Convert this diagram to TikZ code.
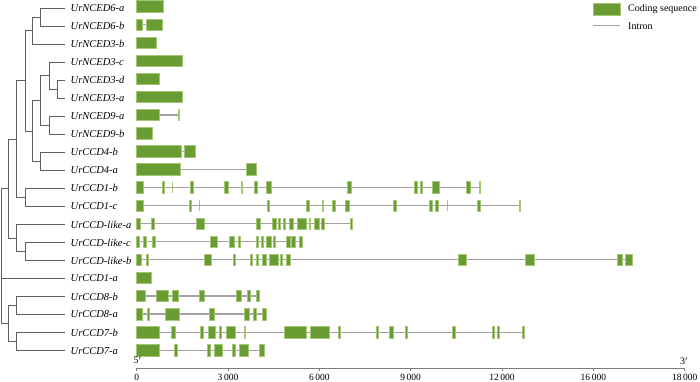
\documentclass[tikz,border=0pt]{standalone}
\usepackage{fontspec}
\setmainfont{Liberation Serif}
\definecolor{exgreen}{RGB}{106,156,52}
\definecolor{exedge}{RGB}{165,200,120}
\definecolor{intr}{RGB}{168,160,160}
\definecolor{treec}{RGB}{95,95,95}
\definecolor{axisc}{RGB}{125,125,125}
\tikzset{
 exon/.style={fill=exgreen,draw=exedge,line width=0.5pt},
 lightexon/.style={fill=exedge,draw=none},
 intron/.style={draw=intr,line width=1.3pt},
 branch/.style={draw=treec,line width=0.9pt,line cap=rect},
 leaflabel/.style={anchor=west,inner sep=0pt,font=\fontsize{10.5}{12}\selectfont\itshape},
 axislabel/.style={inner sep=0pt,font=\fontsize{9.5}{11}\selectfont},
 legendlabel/.style={anchor=west,inner sep=0pt,font=\fontsize{10}{12}\selectfont},
 axisline/.style={draw=axisc,line width=1.2pt}
}
\newcommand\generow[3]{%
 \draw[intron] (136.7,#1) -- (#2,#1);
 \foreach \a/\b in {#3}{\filldraw[exon] (\a,#1-5.7) rectangle (\b,#1+5.7);}
}
\begin{document}
\begin{tikzpicture}[x=1pt,y=-1pt]
\useasboundingbox (0,0) rectangle (700,382);
% leaves
\foreach \i/\t in {0/UrNCED6-a,1/UrNCED6-b,2/UrNCED3-b,3/UrNCED3-c,4/UrNCED3-d,5/UrNCED3-a,6/UrNCED9-a,7/UrNCED9-b,8/UrCCD4-b,9/UrCCD4-a,10/UrCCD1-b,11/UrCCD1-c,12/UrCCD-like-a,13/UrCCD-like-c,14/UrCCD-like-b,15/UrCCD1-a,16/UrCCD8-b,17/UrCCD8-a,18/UrCCD7-b,19/UrCCD7-a}{
 \coordinate (l\i) at (65,8.2+18.02*\i);
 \node[leaflabel] (n\i) at (70.5,8.2+18.02*\i) {\t};
}
% internal nodes
\coordinate (A) at (40.7,17.2);
\coordinate (B) at (32.3,30.7);
\coordinate (C) at (57.3,89.3);
\coordinate (D) at (49.3,75.8);
\coordinate (E) at (49.3,125.3);
\coordinate (F) at (40.7,100.6);
\coordinate (G) at (40.7,161.4);
\coordinate (H) at (32.3,131);
\coordinate (I) at (25,80.9);
\coordinate (L) at (25,197.4);
\coordinate (J) at (16.7,139.1);
\coordinate (P) at (25,251.5);
\coordinate (Q) at (16.7,238);
\coordinate (M) at (8.3,188.5);
\coordinate (R8) at (16.7,305.5);
\coordinate (R7) at (16.7,341.6);
\coordinate (N) at (8.3,323.5);
\coordinate (Rt) at (1,250);
\foreach \p/\c in {A/l0,A/l1,B/A,B/l2,C/l4,C/l5,D/l3,D/C,E/l6,E/l7,F/D,F/E,G/l8,G/l9,H/F,H/G,I/B,I/H,L/l10,L/l11,J/I,J/L,P/l13,P/l14,Q/l12,Q/P,M/J,M/Q,R8/l16,R8/l17,R7/l18,R7/l19,N/R8,N/R7,Rt/M,Rt/l15,Rt/N}{
 \draw[branch] (\p) |- (\c);
}
% gene structures
\generow{6.4}{163.3}{136.7/163.3}
\generow{24.5}{162}{136.7/142.7,146.7/162}
\generow{42.6}{156}{136.7/156}
\generow{60.7}{182.3}{136.7/182.3}
\generow{78.8}{159.7}{136.7/159.7}
\generow{96.9}{182.3}{136.7/182.3}
\generow{115.0}{179.7}{136.7/159,178/179.7}
\generow{133.1}{152}{136.7/152}
\generow{151.2}{195}{136.7/181,184.3/195}
\generow{169.3}{256.7}{136.7/180,246/256.7}
\fill[lightexon] (172,187.4-5.7) rectangle (173,187.4+5.7);
\generow{187.4}{480.5}{136.7/143.3,162/164.3,190.3/193.3,224.3/228.7,241/242.7,254/257.3,266/271.7,347.3/351,414.3/417.3,420/422.7,432/439.3,466.7/470,479.3/480.5}
\fill[lightexon] (199,205.5-5.7) rectangle (200,205.5+5.7);
\fill[lightexon] (447,205.5-5.7) rectangle (448,205.5+5.7);
\generow{205.5}{519.8}{136.7/143.3,189/191,267/269.7,306.7/309.3,322/323.7,332.7/335.7,345/349.7,393/396.7,429.3/432.3,435.3/438,477.7/480.7,518.8/519.8}
\generow{223.6}{352}{136.7/140,151.7/154.7,196.7/204,256/260.7,272.7/276,278.3/280.7,283.3/285.7,289.7/293.3,297.3/306.7,309.3/310.7,314/319,321.7/324.7,350/352}
\generow{241.7}{302.3}{136.7/139,143.3/146.7,152/155,210/217.3,229.3/234,238.3/240,256/258.3,261.7/263.7,266.7/271.3,273.3/275.7,286.7/290,291/295,299.3/302.3}
\generow{259.8}{632.7}{136.7/141,146/148.3,204/211.3,233.3/235.3,250.7/252.7,256.7/258.7,262/266,269.3/278,280.7/282.7,286/290.7,458.3/466.3,525/534.3,617.3/622.3,625.7/632.7}
\generow{277.9}{151.3}{136.7/151.3}
\generow{296.0}{259.3}{136.7/145.3,156.7/168.3,172.3/178.7,199/204.3,236.7/241.7,247.3/250,256/259.3}
\generow{314.1}{266}{136.7/142.3,147.3/149.7,165/179,209.7/214.7,244/249,253.7/256.7,262/266}
\generow{332.2}{524.7}{136.7/159,171.7/175.3,200.7/203.7,208/215.7,219.3/221.7,226/235,244.3/245.7,284.7/306,310.7/329,338.3/340.7,376.7/378.3,389.3/393,405/407.3,452.3/455,492/494,497/499.7,522/524.7}
\generow{350.3}{264}{136.7/159,174.3/177.7,207/210.7,214.3/222,232.7/235,239/248.3,259.3/264}
% axis
\coordinate (ax0) at (136.7,368.3);
\coordinate (ax6) at (684.7,368.3);
\draw[axisline] (ax0) -- (ax6);
\foreach \v/\t [count=\k] in {0/0,3/3\,000,6/6\,000,9/9\,000,12/12\,000,15/16\,000,18/18\,000}{
 \coordinate (tk\k) at (136.7+30.4444*\v,368.3);
 \draw[axisc,line width=1pt] (tk\k) -- ++(0,3);
 \node[axislabel] (tl\k) at (136.7+30.4444*\v,377.5) {\t};
}
\node[axislabel,font=\fontsize{10}{12}\selectfont] (five) at (137.5,360) {5$'$};
\node[axislabel,font=\fontsize{10}{12}\selectfont] (three) at (684,361) {3$'$};
% legend
\filldraw[exon] (593,3) rectangle (620,15);
\node[legendlabel] (lg1) at (628,9) {Coding sequence};
\coordinate (li0) at (593,26);
\coordinate (li1) at (620,26);
\draw[draw=intr,line width=1pt] (li0) -- (li1);
\node[legendlabel] (lg2) at (628,26) {Intron};
\end{tikzpicture}
\end{document}
